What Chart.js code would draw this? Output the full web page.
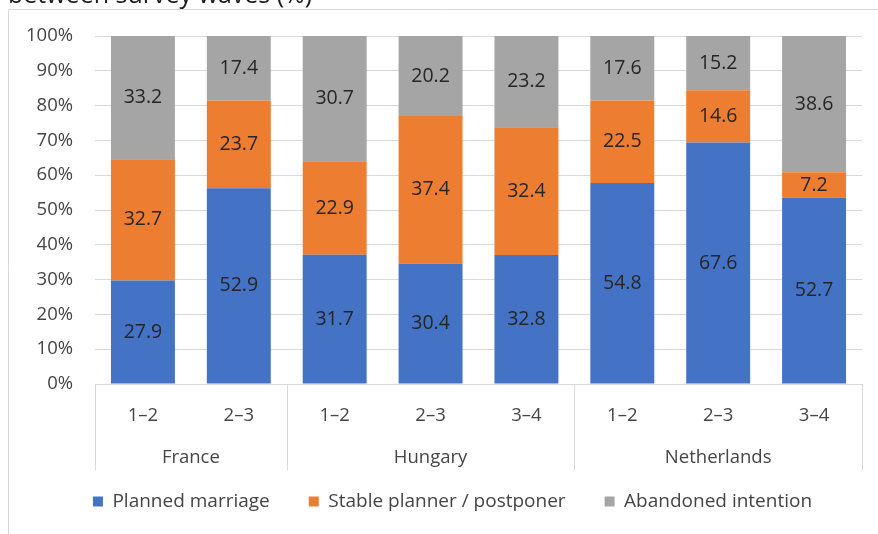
<!DOCTYPE html>
<html>
<head>
<meta charset="utf-8">
<script src="https://cdn.jsdelivr.net/npm/chart.js@4.4.1/dist/chart.umd.min.js"></script>
<style>
  html, body { margin: 0; padding: 0; background: #fff; overflow: hidden; }
  #wrap { position: relative; width: 878px; height: 534px; overflow: hidden; }
  #title { position: absolute; left: 8px; top: -19px; font: 25px/1 "Open Sans", sans-serif; color: #1a1a1a; white-space: nowrap; }
  canvas { position: absolute; left: 0; top: 0; }
</style>
</head>
<body>
<div id="wrap">
  <canvas id="c" width="878" height="534"></canvas>
  <div id="title">between survey waves (%)</div>
</div>
<script>
const groups = ["France", "Hungary", "Netherlands"];
const groupSizes = [2, 3, 3];
const waves = ["1–2", "2–3", "1–2", "2–3", "3–4", "1–2", "2–3", "3–4"];
const seriesNames = ["Planned marriage", "Stable planner / postponer", "Abandoned intention"];
const plannedMarriage = [27.9, 52.9, 31.7, 30.4, 32.8, 54.8, 67.6, 52.7];
const stablePlanner   = [32.7, 23.7, 22.9, 37.4, 32.4, 22.5, 14.6, 7.2];
const abandoned       = [33.2, 17.4, 30.7, 20.2, 23.2, 17.6, 15.2, 38.6];
const yTicks = [0, 10, 20, 30, 40, 50, 60, 70, 80, 90, 100];

const colors = ["#4472C4", "#ED7D31", "#A5A5A5"];
const raw = [plannedMarriage, stablePlanner, abandoned];
const totals = waves.map((_, i) => raw.reduce((s, a) => s + a[i], 0));
const FONT = '"Open Sans", sans-serif';
const TEXT = '#454545';

const decor = {
  id: 'decor',
  beforeDraw(chart) {
    const ctx = chart.ctx;
    ctx.save();
    ctx.strokeStyle = '#d9d9d9';
    ctx.lineWidth = 1;
    ctx.beginPath();
    ctx.moveTo(8.5, 534); ctx.lineTo(8.5, 9.5); ctx.lineTo(878, 9.5);
    ctx.stroke();
    ctx.restore();
  },
  afterDraw(chart) {
    const ctx = chart.ctx;
    const x = chart.scales.x;
    const area = chart.chartArea;
    ctx.save();
    const bounds = [area.left];
    let idx = 0;
    groupSizes.forEach(n => {
      idx += n;
      if (idx < waves.length) bounds.push((x.getPixelForTick(idx - 1) + x.getPixelForTick(idx)) / 2);
    });
    bounds.push(area.right);
    ctx.strokeStyle = '#d9d9d9';
    ctx.lineWidth = 1;
    bounds.forEach(b => {
      const bx = Math.round(b) + 0.5;
      ctx.beginPath();
      ctx.moveTo(bx, area.bottom);
      ctx.lineTo(bx, area.bottom + 86);
      ctx.stroke();
    });
    ctx.fillStyle = TEXT;
    ctx.font = '18.5px ' + FONT;
    ctx.textAlign = 'center';
    ctx.textBaseline = 'middle';
    let start = 0;
    groupSizes.forEach((n, g) => {
      const cx = (x.getPixelForTick(start) + x.getPixelForTick(start + n - 1)) / 2;
      ctx.fillText(groups[g], cx, area.bottom + 74);
      start += n;
    });
    ctx.fillStyle = '#262626';
    ctx.font = '19.5px ' + FONT;
    chart.data.datasets.forEach((ds, di) => {
      const meta = chart.getDatasetMeta(di);
      meta.data.forEach((el, i) => {
        const cy = (el.y + el.base) / 2;
        ctx.fillText(raw[di][i].toFixed(1), el.x, cy);
      });
    });
    ctx.restore();
  }
};

new Chart(document.getElementById('c'), {
  type: 'bar',
  data: {
    labels: waves,
    datasets: seriesNames.map((name, k) => ({
      label: name,
      data: raw[k].map((v, i) => v / totals[i] * 100),
      backgroundColor: colors[k],
      borderWidth: 0,
      barPercentage: 0.667,
      categoryPercentage: 1.0
    }))
  },
  options: {
    responsive: false,
    animation: false,
    devicePixelRatio: 1,
    layout: { padding: { left: 10, right: -17, top: 36, bottom: 13 } },
    plugins: {
      legend: {
        position: 'bottom',
        labels: {
          boxWidth: 10, boxHeight: 10, padding: 39,
          color: TEXT, font: { family: FONT, size: 19 }
        }
      },
      tooltip: { enabled: false }
    },
    scales: {
      x: {
        stacked: true,
        grid: { display: false, drawTicks: false },
        border: { display: true, color: '#d9d9d9' },
        ticks: { color: TEXT, font: { family: FONT, size: 18.5 }, padding: 21, maxRotation: 0 },
        afterFit(s) { s.height = 69; }
      },
      y: {
        stacked: true,
        min: 0, max: 100,
        afterBuildTicks(s) { s.ticks = yTicks.map(v => ({ value: v })); },
        grid: { color: '#d9d9d9', drawTicks: false },
        border: { display: false },
        ticks: { color: TEXT, font: { family: FONT, size: 18.5 }, padding: 22, callback: v => v + '%' },
        afterFit(s) { s.width = 85; }
      },
      y2: {
        position: 'right',
        display: true,
        grid: { display: false, drawTicks: false },
        border: { display: false },
        ticks: { display: false },
        afterFit(s) { s.width = 33; }
      }
    }
  },
  plugins: [decor]
});
</script>
</body>
</html>
